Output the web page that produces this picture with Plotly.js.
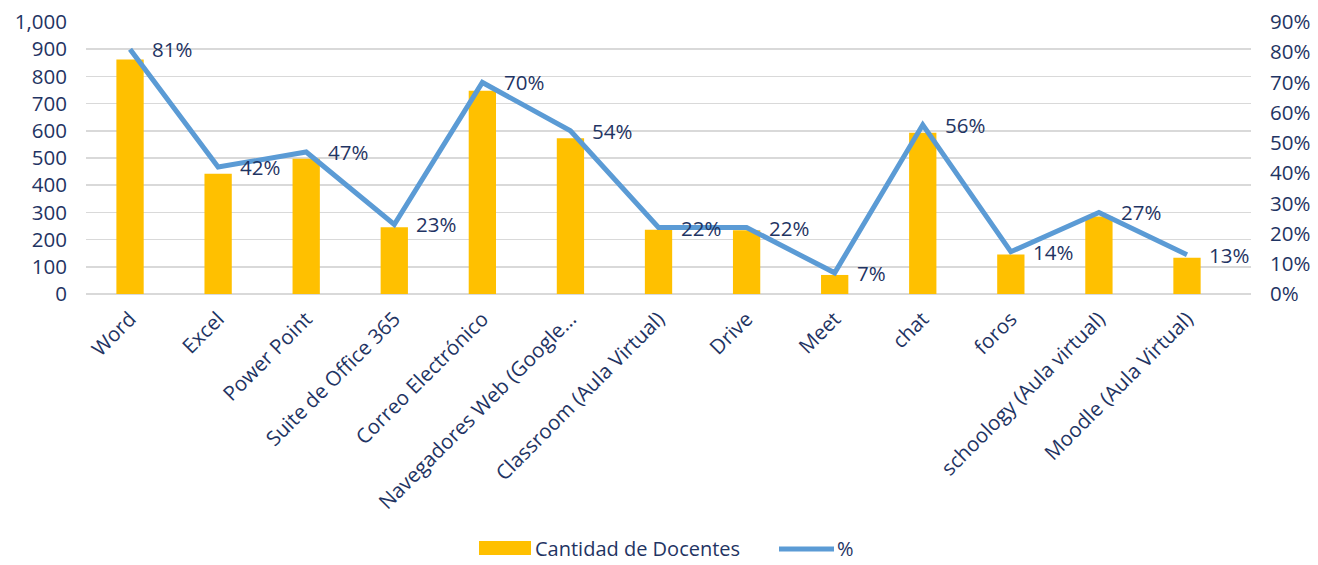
<!DOCTYPE html>
<html><head><meta charset="utf-8">
<script src="https://cdn.plot.ly/plotly-3.0.1.min.js"></script>
<style>body{margin:0;background:#fff}#c{width:1318px;height:565px}</style>
</head><body><div id="c"></div>
<script>
const categories = ["Word","Excel","Power Point","Suite de Office 365","Correo Electrónico","Navegadores Web (Google...","Classroom (Aula Virtual)","Drive","Meet","chat","foros","schoology (Aula virtual)","Moodle (Aula Virtual)"];
const docentes = [862, 442, 497, 245, 747, 573, 236, 234, 70, 593, 145, 285, 133];
const porcentaje = [0.81, 0.42, 0.47, 0.23, 0.70, 0.54, 0.22, 0.22, 0.07, 0.56, 0.14, 0.27, 0.13];
const pctLabels = ["81%","42%","47%","23%","70%","54%","22%","22%","7%","56%","14%","27%","13%"];
const legendNames = ["Cantidad de Docentes", "%"];

const navy = "#1F3463";
const gold = "#FFC000";
const blue = "#5B9BD5";
const font = "'Open Sans', sans-serif";
const FS = 20.5;

const traces = [
  {type:"bar", x:categories, y:docentes, name:legendNames[0],
   marker:{color:gold}, hoverinfo:"skip"},
  {type:"scatter", mode:"lines", x:categories, y:porcentaje, yaxis:"y2", name:legendNames[1],
   line:{color:blue, width:5}, hoverinfo:"skip"}
];

const annotations = categories.map((c,i)=>({
  x:c, y:porcentaje[i], xref:"x", yref:"y2", text:pctLabels[i],
  showarrow:false, xanchor:"left", yanchor:"middle", xshift:20,
  font:{family:font, size:FS, color:navy}
}));

// custom legend (paper coordinates)
const W = 1165, H = 272.5, L = 86, B = 294.5;
const px = v => (v - L) / W;
const py = v => (B - v) / H;
const LY = 549;
annotations.push({xref:"paper", yref:"paper", x:px(534), y:py(LY), text:legendNames[0],
  showarrow:false, xanchor:"left", yanchor:"middle", borderpad:0,
  font:{family:font, size:20, color:navy}});
annotations.push({xref:"paper", yref:"paper", x:px(836), y:py(LY), text:legendNames[1],
  showarrow:false, xanchor:"left", yanchor:"middle", borderpad:0,
  font:{family:font, size:20, color:navy}});
const shapes = [
  {type:"rect", xref:"paper", yref:"paper", x0:px(479), x1:px(531), y0:py(LY+7), y1:py(LY-7),
   fillcolor:gold, line:{width:0}},
  {type:"line", xref:"paper", yref:"paper", x0:px(779), x1:px(834), y0:py(LY+1), y1:py(LY+1),
   line:{color:blue, width:5}}
];

const layout = {
  width:1318, height:565,
  margin:{l:86, r:67, t:22, b:270.5},
  paper_bgcolor:"#fff", plot_bgcolor:"#fff",
  font:{family:font, size:FS, color:navy},
  bargap:0.69,
  showlegend:false,
  annotations, shapes,
  xaxis:{tickangle:-45, showgrid:false, showline:false, zeroline:false, ticks:"",
         ticklabelstandoff:8,
         tickfont:{family:font, size:FS, color:navy}, automargin:false},
  yaxis:{range:[0,1000], dtick:100, tickformat:",d", gridcolor:"#D9D9D9", gridwidth:1.5,
         zeroline:true, zerolinecolor:"#D9D9D9", zerolinewidth:1.5, showline:false,
         ticks:"", ticklabelstandoff:18,
         tickfont:{family:font, size:FS, color:navy}, automargin:false},
  yaxis2:{range:[0,0.9], dtick:0.1, tickformat:".0%", overlaying:"y", side:"right",
          showgrid:false, zeroline:false, showline:false, ticks:"", ticklabelstandoff:18,
          tickfont:{family:font, size:FS, color:navy}, automargin:false}
};
Plotly.newPlot("c", traces, layout, {displayModeBar:false, staticPlot:true});
</script></body></html>
